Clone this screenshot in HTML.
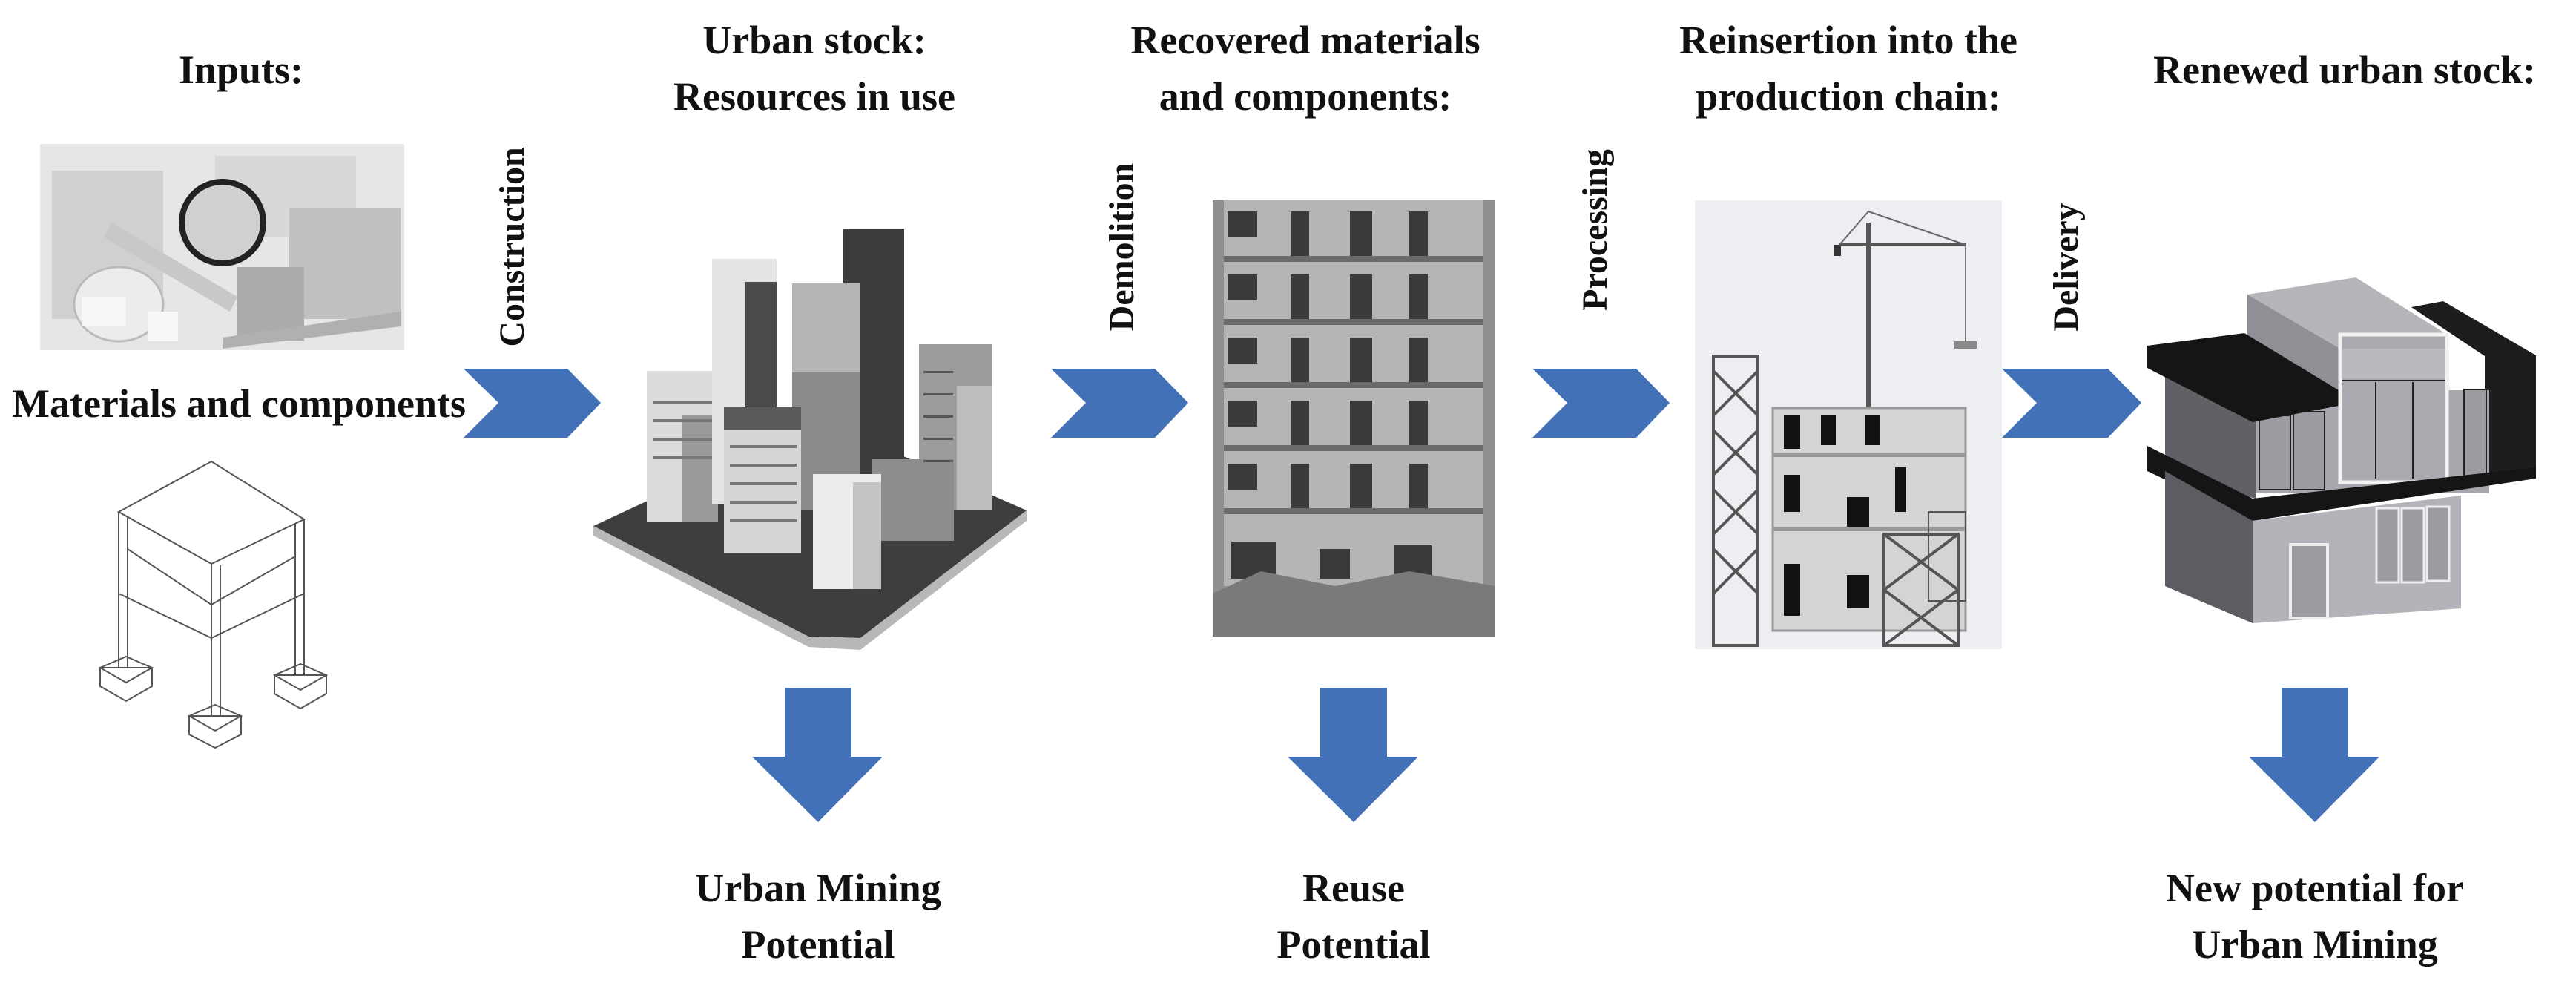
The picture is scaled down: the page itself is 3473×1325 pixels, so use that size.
<!DOCTYPE html>
<html><head><meta charset="utf-8"><style>
html,body{margin:0;padding:0;background:#fff;}
svg{display:block;}
text{font-family:"Liberation Serif",serif;font-weight:bold;fill:#111;}
</style></head><body>
<svg width="3473" height="1325" viewBox="0 0 3473 1325" xmlns="http://www.w3.org/2000/svg">
<rect width="3473" height="1325" fill="#fff"/>
<g font-size="54" text-anchor="middle">
<text x="325" y="112">Inputs:</text>
<text x="1098" y="72">Urban stock:</text>
<text x="1098" y="148">Resources in use</text>
<text x="1760" y="72">Recovered materials</text>
<text x="1760" y="148">and components:</text>
<text x="2492" y="72">Reinsertion into the</text>
<text x="2492" y="148">production chain:</text>
<text x="3161" y="112">Renewed urban stock:</text>
<text x="322" y="562">Materials and components</text>
<text x="1103" y="1215">Urban Mining</text>
<text x="1103" y="1291">Potential</text>
<text x="1825" y="1215">Reuse</text>
<text x="1825" y="1291">Potential</text>
<text x="3121" y="1215">New potential for</text>
<text x="3121" y="1291">Urban Mining</text>
</g>
<g font-size="48" text-anchor="middle">
<text transform="translate(706,333) rotate(-90)">Construction</text>
<text transform="translate(1528,333) rotate(-90)">Demolition</text>
<text transform="translate(2166,310) rotate(-90)">Processing</text>
<text transform="translate(2801,360) rotate(-90)">Delivery</text>
</g>
<g fill="#4271b7">
<polygon points="625,497 765,497 810,543 765,590 625,590 672,543"/>
<polygon points="1417,497 1557,497 1602,543 1557,590 1417,590 1464,543"/>
<polygon points="2066,497 2206,497 2251,543 2206,590 2066,590 2113,543"/>
<polygon points="2699,497 2842,497 2887,543 2842,590 2699,590 2746,543"/>
<polygon points="1058,927 1148,927 1148,1020 1190,1020 1103,1108 1014,1020 1058,1020"/>
<polygon points="1780,927 1870,927 1870,1020 1912,1020 1825,1108 1736,1020 1780,1020"/>
<polygon points="3076,927 3166,927 3166,1020 3208,1020 3121,1108 3032,1020 3076,1020"/>
</g>
<!-- materials photo -->
<g>
<rect x="54" y="194" width="491" height="278" fill="#e6e6e6"/>
<rect x="70" y="230" width="150" height="200" fill="#d0d0d0"/>
<rect x="290" y="210" width="190" height="110" fill="#d8d8d8"/>
<rect x="390" y="280" width="150" height="150" fill="#c0c0c0"/>
<rect x="320" y="360" width="90" height="100" fill="#ababab"/>
<circle cx="300" cy="300" r="55" fill="#d0d0d0" stroke="#222" stroke-width="8"/>
<ellipse cx="160" cy="410" rx="60" ry="50" fill="#ececec" stroke="#bbb" stroke-width="3"/>
<rect x="110" y="400" width="60" height="40" fill="#f6f6f6"/>
<rect x="200" y="420" width="40" height="40" fill="#f8f8f8"/>
<polygon points="150,300 320,400 310,420 140,320" fill="#c8c8c8"/>
<polygon points="300,455 540,420 540,440 300,470" fill="#b0b0b0"/>
</g>
<!-- frame drawing -->
<g fill="none" stroke="#555" stroke-width="2">
<polygon points="285,622 410,700 285,760 160,690"/>
<line x1="160" y1="690" x2="160" y2="900"/><line x1="285" y1="760" x2="285" y2="965"/><line x1="410" y1="700" x2="410" y2="910"/>
<line x1="172" y1="696" x2="172" y2="900"/><line x1="297" y1="762" x2="297" y2="965"/><line x1="398" y1="706" x2="398" y2="910"/>
<polyline points="160,800 285,860 410,800"/>
<polyline points="172,740 285,815 398,750"/>
<polygon points="135,900 170,885 205,900 170,920"/><polygon points="135,900 135,925 170,945 205,925 205,900"/>
<polygon points="370,910 405,895 440,910 405,930"/><polygon points="370,910 370,935 405,955 440,935 440,910"/>
<polygon points="255,965 290,950 325,965 290,985"/><polygon points="255,965 255,990 290,1008 325,990 325,965"/>
</g>
<!-- city -->
<g>
<polygon points="800,709 1107,566 1384,688 1160,860 1090,858" fill="#3e3e3e"/>
<polygon points="800,709 1090,858 1160,860 1384,688 1384,702 1160,876 1090,872 800,722" fill="#b8b8b8"/>
<rect x="872" y="500" width="96" height="204" fill="#dcdcdc"/>
<rect x="920" y="560" width="48" height="144" fill="#9a9a9a"/>
<rect x="960" y="349" width="87" height="330" fill="#e4e4e4"/>
<rect x="1005" y="380" width="42" height="300" fill="#4a4a4a"/>
<rect x="1137" y="309" width="82" height="326" fill="#3c3c3c"/>
<rect x="1068" y="382" width="92" height="306" fill="#8a8a8a"/>
<rect x="1068" y="382" width="92" height="120" fill="#b5b5b5"/>
<rect x="1239" y="464" width="98" height="224" fill="#9c9c9c"/>
<rect x="1290" y="520" width="47" height="168" fill="#bdbdbd"/>
<rect x="1176" y="619" width="110" height="110" fill="#8d8d8d"/>
<rect x="976" y="549" width="104" height="196" fill="#d6d6d6"/>
<rect x="976" y="549" width="104" height="30" fill="#5a5a5a"/>
<rect x="1096" y="639" width="92" height="155" fill="#ececec"/>
<rect x="1150" y="650" width="38" height="144" fill="#c4c4c4"/>
<g fill="#777"><rect x="880" y="540" width="80" height="4"/><rect x="880" y="565" width="80" height="4"/><rect x="880" y="590" width="80" height="4"/><rect x="880" y="615" width="80" height="4"/><rect x="984" y="600" width="90" height="4"/><rect x="984" y="625" width="90" height="4"/><rect x="984" y="650" width="90" height="4"/><rect x="984" y="675" width="90" height="4"/><rect x="984" y="700" width="90" height="4"/></g>
<g fill="#555"><rect x="1245" y="500" width="40" height="3"/><rect x="1245" y="530" width="40" height="3"/><rect x="1245" y="560" width="40" height="3"/><rect x="1245" y="590" width="40" height="3"/><rect x="1245" y="620" width="40" height="3"/></g>
</g>
<!-- demolition photo -->
<g>
<rect x="1635" y="270" width="381" height="588" fill="#8f8f8f"/>
<rect x="1650" y="270" width="350" height="520" fill="#b5b5b5"/>
<g fill="#3a3a3a">
<rect x="1655" y="285" width="40" height="35"/><rect x="1740" y="285" width="25" height="60"/><rect x="1820" y="285" width="30" height="60"/><rect x="1900" y="285" width="25" height="60"/>
<rect x="1655" y="370" width="40" height="35"/><rect x="1740" y="370" width="25" height="60"/><rect x="1820" y="370" width="30" height="60"/><rect x="1900" y="370" width="25" height="60"/>
<rect x="1655" y="455" width="40" height="35"/><rect x="1740" y="455" width="25" height="60"/><rect x="1820" y="455" width="30" height="60"/><rect x="1900" y="455" width="25" height="60"/>
<rect x="1655" y="540" width="40" height="35"/><rect x="1740" y="540" width="25" height="60"/><rect x="1820" y="540" width="30" height="60"/><rect x="1900" y="540" width="25" height="60"/>
<rect x="1655" y="625" width="40" height="35"/><rect x="1740" y="625" width="25" height="60"/><rect x="1820" y="625" width="30" height="60"/><rect x="1900" y="625" width="25" height="60"/>
<rect x="1660" y="730" width="60" height="50"/><rect x="1780" y="740" width="40" height="40"/><rect x="1880" y="735" width="50" height="45"/>
</g>
<g fill="#6a6a6a"><rect x="1650" y="345" width="350" height="8"/><rect x="1650" y="430" width="350" height="8"/><rect x="1650" y="515" width="350" height="8"/><rect x="1650" y="600" width="350" height="8"/><rect x="1650" y="685" width="350" height="8"/></g>
<polygon points="1635,800 1700,770 1800,790 1900,770 2016,790 2016,858 1635,858" fill="#7a7a7a"/>
</g>
<!-- construction site -->
<g>
<rect x="2285" y="270" width="414" height="605" fill="#eceef2"/>
<line x1="2519" y1="300" x2="2519" y2="620" stroke="#555" stroke-width="6"/>
<line x1="2480" y1="330" x2="2650" y2="330" stroke="#555" stroke-width="4"/>
<polyline points="2480,330 2519,285 2650,330" fill="none" stroke="#666" stroke-width="2"/>
<rect x="2472" y="330" width="10" height="15" fill="#333"/>
<line x1="2650" y1="330" x2="2650" y2="460" stroke="#777" stroke-width="2"/>
<rect x="2635" y="460" width="30" height="10" fill="#888"/>
<rect x="2390" y="550" width="260" height="300" fill="#d4d4d4" stroke="#999" stroke-width="3"/>
<rect x="2390" y="610" width="260" height="6" fill="#999"/><rect x="2390" y="710" width="260" height="6" fill="#999"/>
<g fill="#111"><rect x="2405" y="560" width="22" height="45"/><rect x="2455" y="560" width="20" height="40"/><rect x="2515" y="560" width="20" height="40"/><rect x="2405" y="640" width="22" height="50"/><rect x="2490" y="670" width="30" height="40"/><rect x="2405" y="760" width="22" height="70"/><rect x="2490" y="775" width="30" height="45"/><rect x="2555" y="630" width="15" height="60"/></g>
<g fill="none" stroke="#555" stroke-width="4">
<rect x="2310" y="480" width="60" height="390"/>
<path d="M2310,500 L2370,560 M2370,500 L2310,560 M2310,580 L2370,640 M2370,580 L2310,640 M2310,660 L2370,720 M2370,660 L2310,720 M2310,740 L2370,800 M2370,740 L2310,800"/>
<rect x="2540" y="720" width="100" height="150"/>
<path d="M2540,720 L2640,795 M2640,720 L2540,795 M2540,795 L2640,870 M2640,795 L2540,870"/>
<rect x="2600" y="690" width="50" height="120" stroke-width="2"/>
</g>
</g>
<!-- house -->
<g>
<polygon points="3030,397 3176,374 3296,449 3155,470" fill="#b4b6ba"/>
<polygon points="3030,397 3155,470 3155,560 3030,560" fill="#8e9096"/>
<polygon points="3251,414 3294,406 3419,479 3419,642 3350,650 3350,480" fill="#1d1d1d"/>
<polygon points="2919,500 3041,526 3041,672 2919,640" fill="#5f6167"/>
<rect x="3041" y="526" width="315" height="139" fill="#a6a8ad"/>
<g fill="#9a9ca1" stroke="#222" stroke-width="2"><rect x="3046" y="560" width="42" height="100"/><rect x="3092" y="555" width="42" height="105"/><rect x="3322" y="525" width="30" height="120"/></g>
<polygon points="2895,466 3026,449 3153,526 3153,547 3037,569 2895,496" fill="#151515"/>
<rect x="3155" y="451" width="144" height="199" fill="#a9abb0" stroke="#f2f2f2" stroke-width="5"/>
<rect x="3157" y="470" width="140" height="40" fill="#b8babe"/>
<g stroke="#222" stroke-width="2"><line x1="3157" y1="513" x2="3297" y2="513"/><line x1="3203" y1="515" x2="3203" y2="645"/><line x1="3253" y1="515" x2="3253" y2="645"/></g>
<polygon points="2895,601 3037,672 3419,630 3419,645 3037,702 2895,635" fill="#151515"/>
<polygon points="2919,635 3037,702 3037,840 2919,790" fill="#5b5d63"/>
<polygon points="3037,702 3318,668 3318,820 3037,840" fill="#b2b4b9"/>
<rect x="3088" y="734" width="50" height="99" fill="#9a9ca1" stroke="#eee" stroke-width="4"/>
<g fill="#9a9ca1" stroke="#eee" stroke-width="3"><rect x="3204" y="685" width="30" height="100"/><rect x="3238" y="685" width="30" height="100"/><rect x="3272" y="683" width="30" height="100"/></g>
</g>
</svg>
</body></html>
